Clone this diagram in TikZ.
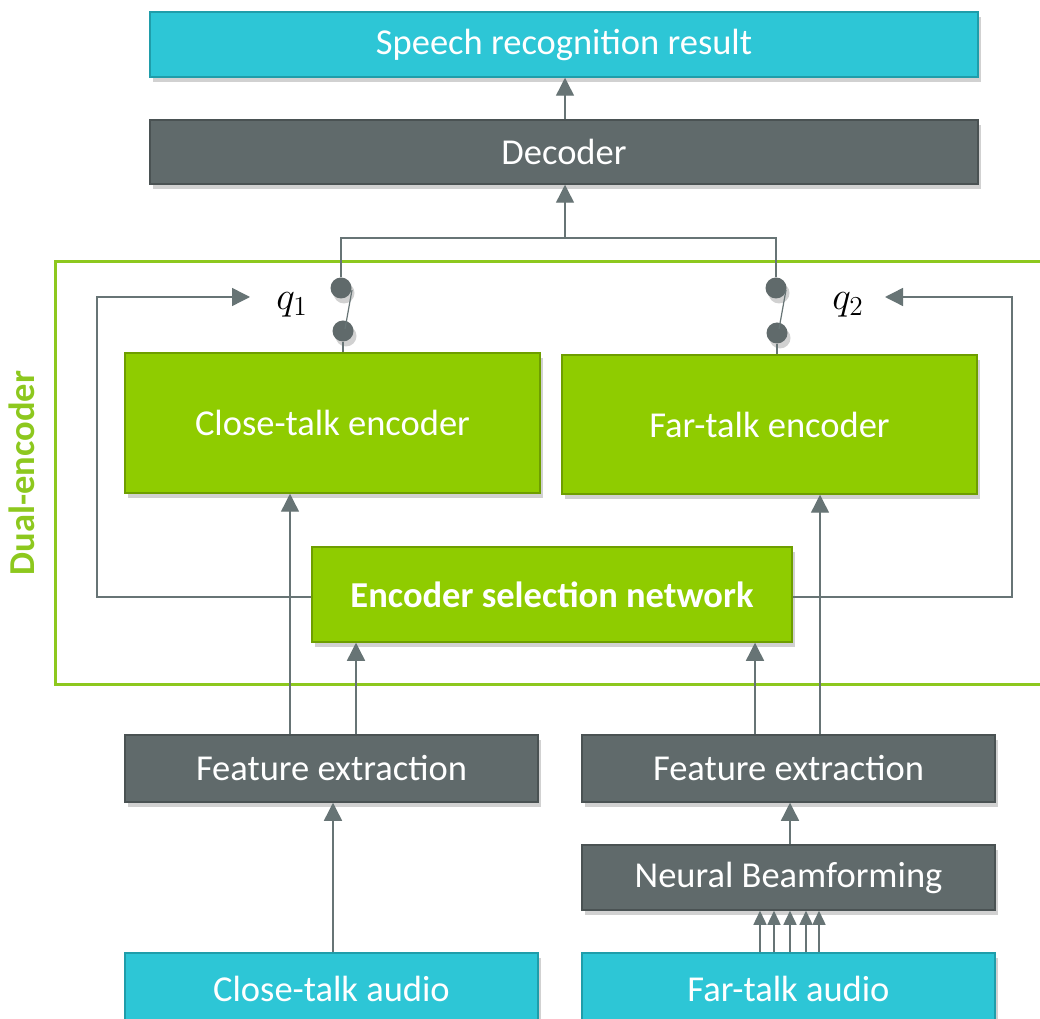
\documentclass[tikz,border=0pt]{standalone}
\usepackage{fontspec}
\usepackage{graphicx}
\setmainfont{Carlito}
\usetikzlibrary{arrows.meta,shadows}
\definecolor{cyanfill}{HTML}{2DC6D6}
\definecolor{cyanline}{HTML}{1F9DAA}
\definecolor{grayfill}{HTML}{606A6B}
\definecolor{grayline}{HTML}{4A5253}
\definecolor{greenfill}{HTML}{8FCC00}
\definecolor{greenline}{HTML}{6E9E00}
\definecolor{frame}{HTML}{8DC81E}
\definecolor{wire}{HTML}{677475}
\begin{document}
\begin{tikzpicture}[x=1pt,y=1pt,
  shd/.style={drop shadow={shadow xshift=3pt,shadow yshift=-5pt,opacity=0.18,fill=black}},
  boxbase/.style={rectangle,line width=1.5pt,text=white,font=\fontsize{36.5}{42}\selectfont,shd,inner sep=0pt},
  cyanbox/.style={boxbase,fill=cyanfill,draw=cyanline},
  graybox/.style={boxbase,fill=grayfill,draw=grayline},
  greenbox/.style={boxbase,fill=greenfill,draw=greenline},
  wirestyle/.style={draw=wire,line width=1.4pt},
  arr/.style={wirestyle,-{Triangle[width=18pt,length=18pt]}},
  smallarr/.style={wirestyle,-{Triangle[width=13pt,length=14pt]}},
  dot/.style={circle,fill=grayfill,minimum size=21pt,inner sep=0pt,shd},
  qlabel/.style={inner sep=0pt}
]
\useasboundingbox (0,0) rectangle (1040,1018);
\fill[white] (0,0) rectangle (1040,1018);

% dual-encoder frame
\draw[frame,line width=3pt] (55,334) rectangle (1048,756);
\node[rotate=90,text=frame,font=\fontsize{36.5}{42}\selectfont\bfseries] (dual) at (22,545) {Dual-encoder};

% boxes
\node[cyanbox,minimum width=828pt,minimum height=65pt] (res) at (564,973.5) {Speech recognition result};
\node[graybox,minimum width=828pt,minimum height=64pt] (dec) at (564,866) {Decoder};
\node[greenbox,minimum width=415pt,minimum height=140pt] (ce) at (332.5,595) {Close-talk encoder};
\node[greenbox,minimum width=415pt,minimum height=139pt] (fe) at (769.5,593.5) {Far-talk encoder};
\node[greenbox,minimum width=480pt,minimum height=95pt,font=\fontsize{36.5}{42}\selectfont\bfseries] (esn) at (552,423.5) {Encoder selection network};
\node[graybox,minimum width=413pt,minimum height=67pt] (fxl) at (331.5,249.5) {Feature extraction};
\node[graybox,minimum width=413pt,minimum height=67pt] (fxr) at (788.5,249.5) {Feature extraction};
\node[graybox,minimum width=413pt,minimum height=65pt] (nb) at (788.5,140.5) {Neural Beamforming};
\node[cyanbox,minimum width=413pt,minimum height=72pt] (ca) at (331.5,29) {Close-talk audio};
\node[cyanbox,minimum width=413pt,minimum height=72pt] (fa) at (788.5,29) {Far-talk audio};

% switches
\node[dot] (s1t) at (341,730) {};
\node[dot] (s1b) at (343,687) {};
\node[dot] (s2t) at (776,730) {};
\node[dot] (s2b) at (777,685) {};
\draw[wirestyle,line width=1.2pt] (352,728) -- (345,689);
\draw[wirestyle,line width=1.2pt] (786,728) -- (779,689);
\draw[wirestyle] (s1b) -- (s1b |- ce.north);
\draw[wirestyle] (s2b) -- (s2b |- fe.north);

% top bracket
\coordinate (bl) at (341,780);
\coordinate (br) at (776,780);
\coordinate (bm) at (565,780);
\draw[wirestyle] (s1t.north) -- (bl) -- (br) -- (s2t.north);
\draw[arr] (bm) -- (bm |- dec.south);
\draw[arr] (dec.north -| 565,0) -- (res.south -| 565,0);

% q labels
\node[qlabel] (q1) at (292,713) {\scalebox{1.9}{\fontsize{20}{24}\selectfont$q_1$}};
\node[qlabel] (q2) at (848,713) {\scalebox{1.9}{\fontsize{20}{24}\selectfont$q_2$}};

% feedback loops
\coordinate (fl1) at (97,421);
\coordinate (fl2) at (97,721);
\coordinate (fl3) at (250,721);
\draw[arr] (esn.west |- fl1) -- (fl1) -- (fl2) -- (fl3);
\coordinate (fr1) at (1012,421);
\coordinate (fr2) at (1012,721);
\coordinate (fr3) at (885,721);
\draw[arr] (esn.east |- fr1) -- (fr1) -- (fr2) -- (fr3);

% vertical arrows
\draw[arr] (fxl.north -| 290,0) -- (ce.south -| 290,0);
\draw[arr] (fxl.north -| 356,0) -- (esn.south -| 356,0);
\draw[arr] (fxr.north -| 755,0) -- (esn.south -| 755,0);
\draw[arr] (fxr.north -| 820,0) -- (fe.south -| 820,0);
\draw[arr] (ca.north -| 333,0) -- (fxl.south -| 333,0);
\draw[arr] (nb.north -| 790,0) -- (fxr.south -| 790,0);
\foreach \xx in {760,774,790,806,819}{
  \draw[smallarr] (fa.north -| \xx,0) -- (nb.south -| \xx,0);
}
\end{tikzpicture}
\end{document}
